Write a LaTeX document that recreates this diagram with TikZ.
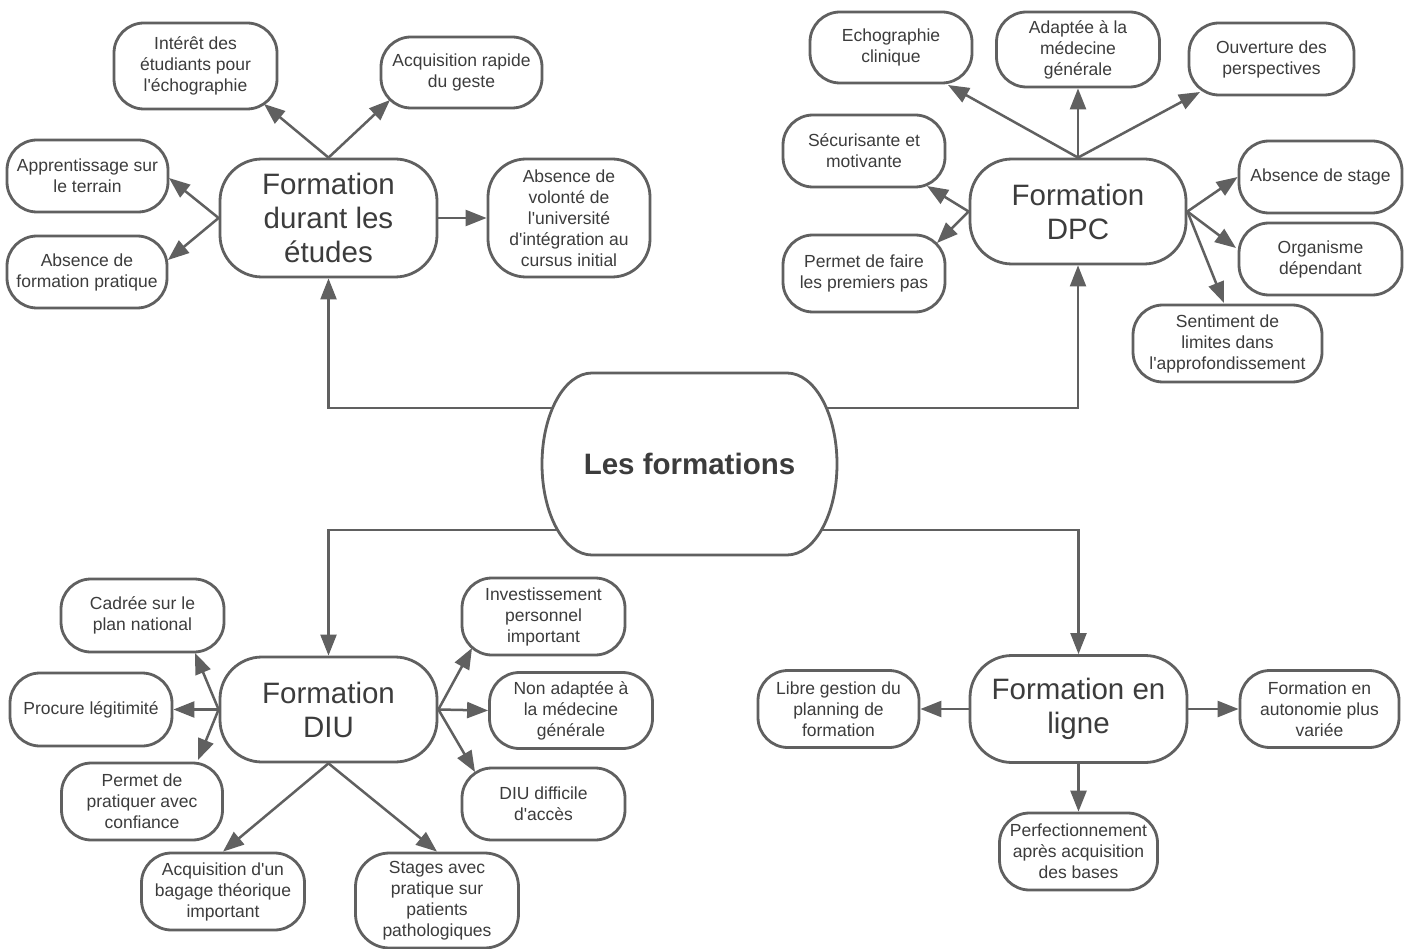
\documentclass[tikz,border=0pt]{standalone}
\usepackage{fontspec}
\setmainfont{Liberation Sans}
\usetikzlibrary{arrows.meta,calc}
\definecolor{ln}{HTML}{606060}
\definecolor{tx}{HTML}{3C3C3C}
\begin{document}
\begin{tikzpicture}[x=1pt,y=-1pt,
  box/.style={draw=ln, line width=2.8pt, fill=white, rounded corners=30pt, text=tx,
    align=center, inner sep=0pt, font=\fontsize{17.5}{21}\selectfont},
  big/.style={box, rounded corners=42pt, font=\fontsize{29.5}{34}\selectfont},
  arr/.style={draw=ln, line width=2.5pt, -{Triangle[length=21pt,width=16pt]}},
  carr/.style={arr, line width=2.2pt},
]
\useasboundingbox[fill=white] (0,0) rectangle (1410,949);

% central shape
\draw[draw=ln, line width=2.8pt, fill=white] (592,373) -- (787,373)
  arc[start angle=-90, end angle=90, x radius=50, y radius=91] -- (592,555)
  arc[start angle=90, end angle=270, x radius=50, y radius=91] -- cycle;
\node[text=tx, inner sep=0pt, minimum width=295pt, minimum height=182pt,
  font=\fontsize{29.5}{34}\selectfont\bfseries] (ctr) at (689.5,464) {Les formations};

% top-left group
\node[big, minimum width=217pt, minimum height=118pt] (fdur) at (328.5,218) {Formation\\durant les\\études};
\node[box, minimum width=163pt, minimum height=86pt] (int) at (195.5,66) {Intérêt des\\étudiants pour\\l\textquotesingle échographie};
\node[box, minimum width=161pt, minimum height=71pt] (acq) at (461.5,72.5) {Acquisition rapide\\du geste};
\node[box, minimum width=161pt, minimum height=72pt] (app) at (87.5,176) {Apprentissage sur\\le terrain};
\node[box, minimum width=160pt, minimum height=72pt] (abs) at (87,272) {Absence de\\formation pratique};
\node[box, minimum width=162pt, minimum height=118pt, rounded corners=38pt] (vol) at (569,218) {Absence de\\volonté de\\l\textquotesingle université\\d\textquotesingle intégration au\\cursus initial};

% top-right group
\node[big, minimum width=216pt, minimum height=105pt] (dpc) at (1078,211.5) {Formation\\DPC};
\node[box, minimum width=162pt, minimum height=71pt] (echo) at (891,47.5) {Echographie\\clinique};
\node[box, minimum width=163pt, minimum height=75pt] (adap) at (1078,49.5) {Adaptée à la\\médecine\\générale};
\node[box, minimum width=165pt, minimum height=72pt] (ouv) at (1271.5,59) {Ouverture des\\perspectives};
\node[box, minimum width=162pt, minimum height=72pt] (sec) at (864,151) {Sécurisante et\\motivante};
\node[box, minimum width=162pt, minimum height=77pt] (perm) at (864,273.5) {Permet de faire\\les premiers pas};
\node[box, minimum width=163pt, minimum height=72pt] (abst) at (1320.5,177) {Absence de stage};
\node[box, minimum width=163pt, minimum height=72pt] (org) at (1320.5,259) {Organisme\\dépendant};
\node[box, minimum width=189pt, minimum height=77pt] (sent) at (1227.5,343.5) {Sentiment de\\limites dans\\l\textquotesingle approfondissement};

% bottom-left group
\node[big, minimum width=217pt, minimum height=105pt] (diu) at (328.5,709.5) {Formation\\DIU};
\node[box, minimum width=163pt, minimum height=73pt] (cad) at (142.5,615.5) {Cadrée sur le\\plan national};
\node[box, minimum width=162pt, minimum height=73pt] (proc) at (91,709.5) {Procure légitimité};
\node[box, minimum width=161pt, minimum height=77pt] (permc) at (142,801.5) {Permet de\\pratiquer avec\\confiance};
\node[box, minimum width=163pt, minimum height=77pt] (inv) at (543.5,616.5) {Investissement\\personnel\\important};
\node[box, minimum width=163pt, minimum height=76pt] (nonad) at (571,710.5) {Non adaptée à\\la médecine\\générale};
\node[box, minimum width=163pt, minimum height=72pt] (diff) at (543.5,804) {DIU difficile\\d\textquotesingle accès};
\node[box, minimum width=163pt, minimum height=77pt] (acqb) at (223,891.5) {Acquisition d\textquotesingle un\\bagage théorique\\important};
\node[box, minimum width=163pt, minimum height=95pt, rounded corners=34pt] (stg) at (437,900.5) {Stages avec\\pratique sur\\patients\\pathologiques};

% bottom-right group
\node[big, minimum width=217pt, minimum height=107pt] (fel) at (1078.5,709) {Formation en\\ligne};
\node[box, minimum width=161pt, minimum height=77pt] (lib) at (838.5,709) {Libre gestion du\\planning de\\formation};
\node[box, minimum width=159pt, minimum height=77pt] (auto) at (1319.5,709) {Formation en\\autonomie plus\\variée};
\node[box, minimum width=158pt, minimum height=77pt] (perf) at (1078.5,851.5) {Perfectionnement\\après acquisition\\des bases};

% connectors from the centre
\draw[carr] ([xshift=-136.4pt,yshift=56pt]ctr.center) -| (fdur.south);
\draw[carr] ([xshift=136.4pt,yshift=56pt]ctr.center) -| (dpc.south);
\draw[carr] ([xshift=-131.4pt,yshift=-66pt]ctr.center) -| (diu.north);
\draw[carr] ([xshift=131.4pt,yshift=-66pt]ctr.center) -| (fel.north);

% top-left arrows
\draw[arr] (fdur.north) -- ($(int.center)+(68.5,38)$);
\draw[arr] (fdur.north) -- ($(acq.center)+(-71.5,27.5)$);
\draw[arr] (fdur.west) -- ($(app.center)+(81.5,2)$);
\draw[arr] (fdur.west) -- ($(abs.center)+(81,-12)$);
\draw[arr] (fdur.east) -- (vol.west);

% top-right arrows
\draw[arr] (dpc.north) -- ($(echo.center)+(57,37.5)$);
\draw[arr] (dpc.north) -- (adap.south);
\draw[arr] (dpc.north) -- ($(ouv.center)+(-71.5,33)$);
\draw[arr] (dpc.west) -- ($(sec.center)+(63,35)$);
\draw[arr] (dpc.west) -- ($(perm.center)+(73,-30.5)$);
\draw[arr] (dpc.east) -- (abst.west);
\draw[arr] (dpc.east) -- ($(org.center)+(-84.5,-11)$);
\draw[arr] (dpc.east) -- ($(sent.center)+(-3.5,-40.5)$);

% bottom-left arrows
\draw[arr] (diu.west) -- ($(cad.center)+(52.5,37.5)$);
\draw[arr] (diu.west) -- (proc.east);
\draw[arr] (diu.west) -- ($(permc.center)+(56,-41.5)$);
\draw[arr] (diu.east) -- ($(inv.center)+(-71.5,31.5)$);
\draw[arr] (diu.east) -- (nonad.west);
\draw[arr] (diu.east) -- ($(diff.center)+(-68.5,-32)$);
\draw[arr] (diu.south) -- (acqb.north);
\draw[arr] (diu.south) -- (stg.north);

% bottom-right arrows
\draw[arr] (fel.west) -- (lib.east);
\draw[arr] (fel.east) -- (auto.west);
\draw[arr] (fel.south) -- (perf.north);
\end{tikzpicture}
\end{document}
